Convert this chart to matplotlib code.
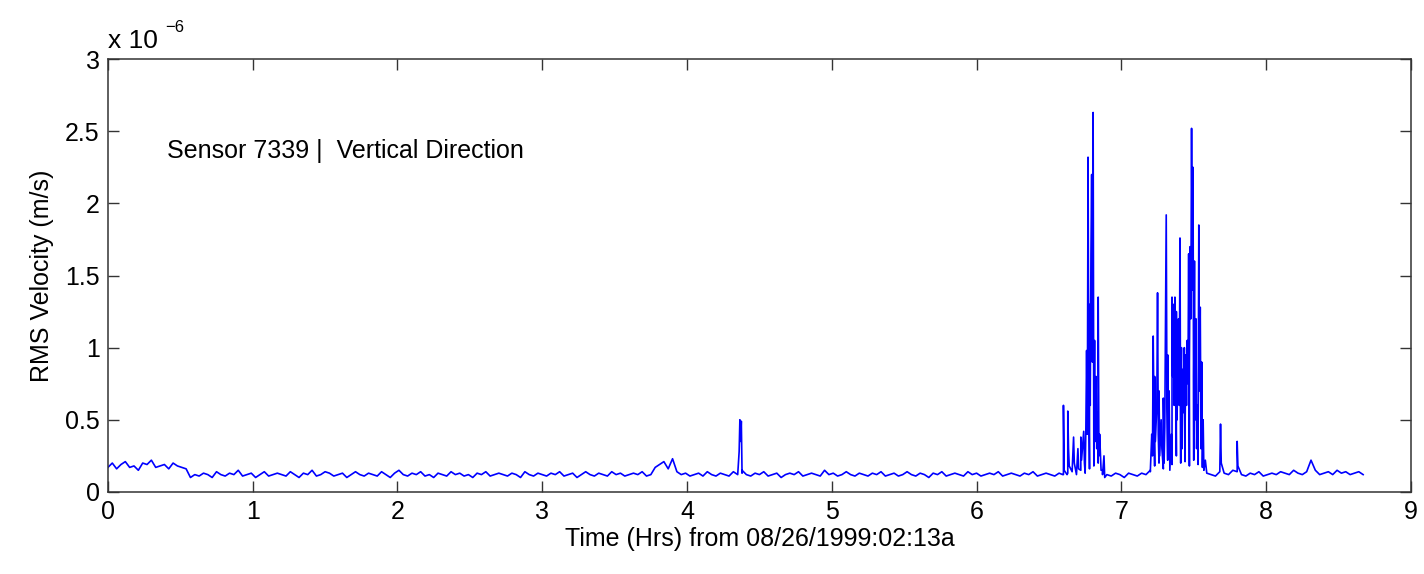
import numpy as np
import matplotlib
matplotlib.use("Agg")
import matplotlib.pyplot as plt

plt.rcParams['font.family'] = ['Liberation Sans', 'DejaVu Sans']

# RMS velocity (units of 1e-6 m/s), baseline sampled every 0.03 hr
base_step = 0.03
base_vals = [
    0.17, 0.20, 0.16, 0.19, 0.21, 0.17, 0.18, 0.15, 0.20, 0.19, 0.22, 0.17, 0.18, 0.19, 0.16, 0.20, 0.18, 0.17, 0.16,
    0.10, 0.12, 0.11, 0.13, 0.12, 0.10, 0.14, 0.12, 0.11, 0.13, 0.12, 0.15, 0.11, 0.12, 0.13, 0.10, 0.12, 0.14, 0.11, 0.12,
    0.13, 0.12, 0.11, 0.14, 0.12, 0.10, 0.13, 0.12, 0.15, 0.11, 0.12, 0.14, 0.13, 0.11, 0.12, 0.13, 0.10, 0.12, 0.14, 0.12, 0.11,
    0.13, 0.12, 0.11, 0.14, 0.12, 0.10, 0.13, 0.15, 0.12, 0.11, 0.13, 0.12, 0.14, 0.11, 0.12, 0.10, 0.13, 0.12, 0.11, 0.14,
    0.12, 0.13, 0.11, 0.12, 0.10, 0.13, 0.12, 0.14, 0.11, 0.12, 0.13, 0.12, 0.11, 0.13, 0.12, 0.10, 0.14, 0.12, 0.11, 0.13,
    0.12, 0.11, 0.13, 0.12, 0.14, 0.11, 0.12, 0.13, 0.10, 0.12, 0.14, 0.12, 0.11, 0.13, 0.12, 0.11, 0.14, 0.12, 0.13, 0.11,
    0.12, 0.13, 0.12, 0.14, 0.11, 0.12, 0.17, 0.19, 0.21, 0.16, 0.23, 0.14, 0.12, 0.13, 0.11, 0.12, 0.13, 0.11, 0.14, 0.12,
    0.11, 0.13, 0.12, 0.11, 0.14, 0.12, 0.13, 0.12, 0.11, 0.13, 0.12, 0.14, 0.11, 0.12, 0.13, 0.10, 0.12, 0.13, 0.12, 0.14,
    0.11, 0.12, 0.13, 0.12, 0.11, 0.15, 0.12, 0.13, 0.11, 0.12, 0.14, 0.12, 0.11, 0.13, 0.12, 0.11, 0.13, 0.12, 0.14, 0.11,
    0.12, 0.13, 0.11, 0.12, 0.14, 0.12, 0.11, 0.13, 0.12, 0.10, 0.13, 0.12, 0.14, 0.11, 0.12, 0.13, 0.12, 0.11, 0.14, 0.12,
    0.13, 0.11, 0.12, 0.13, 0.12, 0.14, 0.11, 0.12, 0.13, 0.12, 0.11, 0.13, 0.12, 0.14, 0.11, 0.12, 0.13, 0.12, 0.11, 0.13,
    0.12, 0.13, 0.14, 0.12, 0.15, 0.13, 0.16, 0.18, 0.20, 0.15, 0.12, 0.11, 0.13, 0.12, 0.10, 0.13, 0.12, 0.11, 0.13, 0.12,
    0.15, 0.18, 0.20, 0.16, 0.22, 0.19, 0.25, 0.20, 0.21, 0.18, 0.22, 0.19, 0.17, 0.13, 0.12, 0.11, 0.14, 0.13, 0.12, 0.15,
    0.14, 0.12, 0.11, 0.13, 0.12, 0.14, 0.11, 0.12, 0.13, 0.12, 0.14, 0.13, 0.12, 0.15, 0.13, 0.12, 0.14, 0.22, 0.15, 0.12,
    0.13, 0.14, 0.12, 0.15, 0.13, 0.14, 0.12, 0.13, 0.14, 0.12,
]

# spikes / bursts: (time in hr, value)
burst_t = [
    4.36, 4.365, 4.37, 4.375, 4.38,
    6.595, 6.60, 6.605, 6.625, 6.63, 6.635, 6.64, 6.66, 6.67, 6.675, 6.70, 6.705, 6.72, 6.725, 6.74, 6.745, 6.755,
    6.76, 6.765, 6.77, 6.775, 6.78, 6.785, 6.79, 6.795, 6.80, 6.805, 6.81, 6.815, 6.82, 6.825, 6.83, 6.835, 6.84,
    6.845, 6.85, 6.86, 6.87, 6.88, 6.885,
    7.20, 7.21, 7.215, 7.22, 7.225, 7.23, 7.235, 7.245, 7.25, 7.255, 7.26, 7.265, 7.275, 7.28, 7.29, 7.295, 7.30,
    7.31, 7.315, 7.32, 7.325, 7.33, 7.335, 7.345, 7.35, 7.355, 7.36, 7.365, 7.37, 7.375, 7.38, 7.385, 7.39, 7.395,
    7.40, 7.405, 7.41, 7.415, 7.42, 7.425, 7.43, 7.435, 7.44, 7.445, 7.45, 7.455, 7.46, 7.465, 7.47, 7.475, 7.48,
    7.485, 7.49, 7.495, 7.50, 7.505, 7.51, 7.515, 7.52, 7.525, 7.53, 7.535, 7.54, 7.545, 7.55, 7.555, 7.56, 7.565,
    7.57, 7.58,
    7.685, 7.69, 7.80, 7.805,
]
burst_v = [
    0.28, 0.50, 0.35, 0.49, 0.15,
    0.12, 0.60, 0.15, 0.12, 0.56, 0.30, 0.18, 0.14, 0.38, 0.20, 0.30, 0.16, 0.38, 0.22, 0.42, 0.20, 0.45,
    0.98, 0.40, 2.32, 0.70, 1.30, 0.60, 1.65, 2.20, 0.90, 2.63, 0.55, 1.05, 0.35, 0.80, 0.30, 0.55, 1.35,
    0.25, 0.40, 0.15, 0.12, 0.25, 0.10,
    0.14, 0.40, 0.25, 1.08, 0.55, 0.80, 0.35, 0.60, 1.38, 0.40, 0.70, 0.25, 0.50, 0.30, 0.65, 0.20, 0.45,
    1.92, 0.60, 0.95, 0.35, 0.70, 0.15, 0.40, 1.35, 0.80, 1.30, 0.60, 1.35, 0.90, 1.25, 0.50, 0.90, 1.20,
    0.60, 1.76, 0.70, 1.00, 0.30, 0.85, 0.55, 1.00, 0.40, 0.95, 0.60, 1.05, 0.75, 1.65, 0.90, 1.70, 1.20,
    2.52, 1.40, 2.25, 0.80, 1.60, 0.50, 1.20, 0.30, 0.60, 0.25, 1.85, 0.70, 1.28, 0.30, 0.90, 0.20, 0.50,
    0.15, 0.22,
    0.47, 0.20, 0.35, 0.18,
]

base_t = np.arange(len(base_vals)) * base_step
t = np.concatenate([base_t, burst_t])
v = np.concatenate([base_vals, burst_v])
order = np.argsort(t, kind="stable")
t, v = t[order], v[order]

fig = plt.figure(figsize=(14.24, 5.74), dpi=100)
ax = fig.add_axes([0.0758, 0.143, 0.915, 0.754])

ax.plot(t, v, color=(0, 0, 1), lw=1.2)

ax.set_xlim(0, 9)
ax.set_ylim(0, 3)
ax.set_xticks(range(0, 10))
ax.set_yticks([0, 0.5, 1, 1.5, 2, 2.5, 3])
ax.set_yticklabels(['0', '0.5', '1', '1.5', '2', '2.5', '3'])
ax.tick_params(direction='in', length=8, width=1, top=True, right=True,
               labelsize=18, color='#333333', pad=6)
for s in ax.spines.values():
    s.set_color('#333333')
    s.set_linewidth(1.1)

ax.set_xlabel('Time (Hrs) from 08/26/1999:02:13a', fontsize=18, labelpad=2)
ax.set_ylabel('RMS Velocity (m/s)', fontsize=18, labelpad=8)

ax.text(0.41, 2.36, 'Sensor 7339 |  Vertical Direction', fontsize=18, ha='left', va='center')
ax.text(0.0, 1.015, 'x 10', fontsize=19, ha='left', va='bottom', transform=ax.transAxes)
ax.text(0.044, 1.055, '\u22126', fontsize=12, ha='left', va='bottom', transform=ax.transAxes)

fig.savefig('out.png', dpi=100)
